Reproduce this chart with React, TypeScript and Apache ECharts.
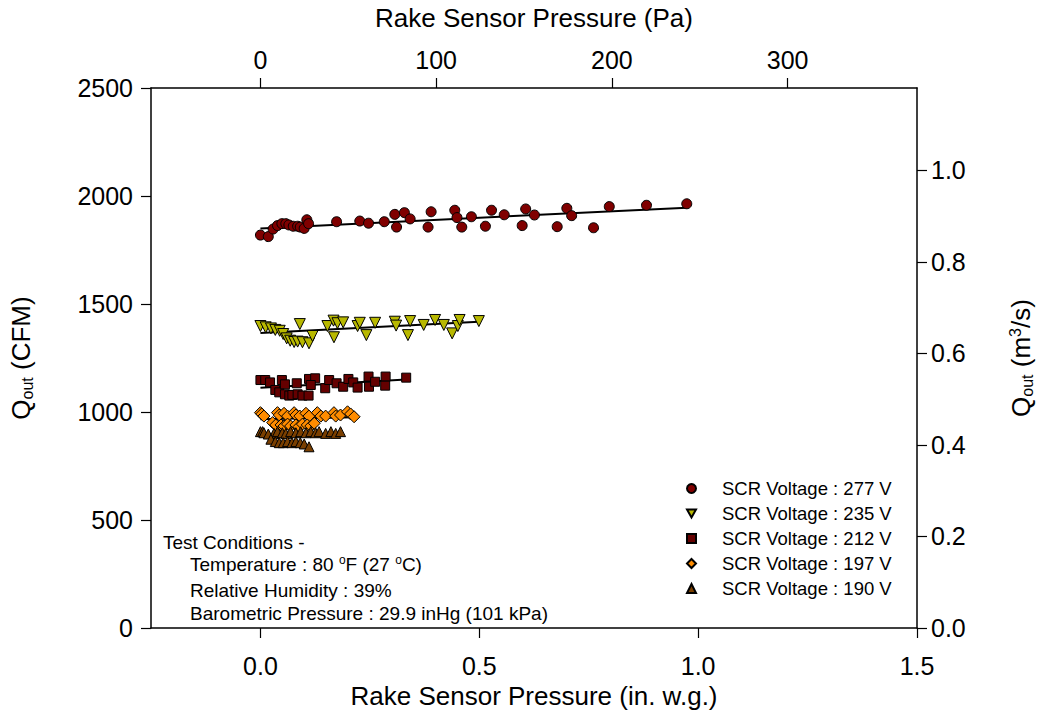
import React, { useEffect, useRef } from "react";
import * as echarts from "echarts";

// Rake Sensor Pressure (in. w.g.) vs Q_out (CFM)
const v277: number[][] = [
  [0.0, 1819], [0.018, 1812], [0.029, 1847], [0.039, 1863], [0.049, 1872], [0.058, 1872],
  [0.065, 1866], [0.075, 1860], [0.085, 1860], [0.091, 1856], [0.1, 1850], [0.106, 1890],
  [0.11, 1872], [0.174, 1881], [0.227, 1884], [0.247, 1874], [0.283, 1881], [0.307, 1915],
  [0.311, 1856], [0.329, 1923], [0.342, 1894], [0.39, 1927], [0.383, 1856], [0.444, 1934],
  [0.449, 1900], [0.46, 1856], [0.482, 1904], [0.514, 1860], [0.528, 1934], [0.557, 1913],
  [0.598, 1863], [0.606, 1940], [0.626, 1912], [0.678, 1858], [0.7, 1943], [0.711, 1909],
  [0.761, 1853], [0.797, 1951], [0.882, 1957], [0.974, 1964],
];
const v235: number[][] = [
  [0.0, 1398], [0.012, 1392], [0.024, 1387], [0.034, 1380], [0.044, 1376], [0.052, 1361],
  [0.06, 1341], [0.068, 1330], [0.077, 1324], [0.085, 1326], [0.096, 1323], [0.111, 1318],
  [0.09, 1407], [0.119, 1352], [0.153, 1398], [0.167, 1423], [0.176, 1411], [0.189, 1415],
  [0.168, 1346], [0.222, 1398], [0.227, 1413], [0.242, 1356], [0.262, 1413], [0.307, 1418],
  [0.31, 1400], [0.337, 1356], [0.342, 1421], [0.373, 1403], [0.399, 1426], [0.419, 1403],
  [0.438, 1364], [0.451, 1398], [0.455, 1426], [0.499, 1421],
];
const v212: number[][] = [
  [0.0, 1148], [0.011, 1148], [0.022, 1137], [0.049, 1148], [0.034, 1102], [0.043, 1091],
  [0.056, 1128], [0.056, 1082], [0.066, 1076], [0.073, 1079], [0.085, 1082], [0.083, 1133],
  [0.096, 1076], [0.11, 1076], [0.111, 1153], [0.125, 1156], [0.115, 1125], [0.148, 1110],
  [0.157, 1148], [0.174, 1133], [0.189, 1117], [0.201, 1153], [0.212, 1137], [0.222, 1113],
  [0.247, 1164], [0.248, 1117], [0.262, 1140], [0.286, 1164], [0.285, 1122], [0.333, 1159],
];
const v197: number[][] = [
  [0.0, 997], [0.003, 991], [0.008, 981], [0.039, 997], [0.043, 986], [0.054, 994],
  [0.062, 981], [0.077, 997], [0.081, 986], [0.09, 981], [0.104, 994], [0.111, 981],
  [0.13, 997], [0.138, 981], [0.149, 981], [0.168, 997], [0.172, 981], [0.183, 986],
  [0.199, 1001], [0.206, 991], [0.214, 978], [0.028, 951], [0.035, 940], [0.047, 940],
  [0.054, 935], [0.062, 944], [0.069, 935], [0.081, 940], [0.088, 932], [0.096, 944],
  [0.107, 940], [0.115, 935], [0.123, 948],
];
const v190: number[][] = [
  [0.0, 909], [0.005, 909], [0.008, 904], [0.018, 898], [0.031, 901], [0.039, 909],
  [0.05, 904], [0.058, 901], [0.069, 909], [0.081, 904], [0.092, 909], [0.104, 904],
  [0.115, 909], [0.126, 904], [0.134, 909], [0.149, 901], [0.161, 909], [0.172, 901],
  [0.183, 909], [0.024, 874], [0.034, 863], [0.043, 858], [0.052, 858], [0.062, 863],
  [0.072, 858], [0.081, 863], [0.091, 858], [0.1, 852], [0.111, 839],
];

// Fitted lines (end points)
const fit277: number[][] = [[0.0, 1850], [0.974, 1946]];
const fit235: number[][] = [[0.0, 1366], [0.499, 1418]];
const fit212: number[][] = [[0.0, 1112], [0.333, 1150]];
const fit197: number[][] = [[0.0, 966], [0.214, 976]];
const fit190: number[][] = [[0.0, 888], [0.183, 891]];

const seriesNames = [
  "SCR Voltage : 277 V",
  "SCR Voltage : 235 V",
  "SCR Voltage : 212 V",
  "SCR Voltage : 197 V",
  "SCR Voltage : 190 V",
];

const bottomTicks = [0, 0.5, 1.0, 1.5];
const topTicks = [0, 100, 200, 300];
const leftTicks = [0, 500, 1000, 1500, 2000, 2500];
const rightTicks = [0, 0.2, 0.4, 0.6, 0.8, 1.0];

const PA_PER_INWG = 249.09;
const CFM_PER_M3S = 2118.88;
const X_MIN = -0.25;
const X_MAX = 1.5;
const Y_MAX = 2500;

const FONT = "'Liberation Sans', Arial, Helvetica, sans-serif";

export default function App() {
  const ref = useRef<HTMLDivElement>(null);

  useEffect(() => {
    if (!ref.current) return;
    const chart = echarts.init(ref.current, null, { renderer: "svg" });

    const axisLine = { show: true, onZero: false, lineStyle: { color: "#000", width: 1.5 } };
    const tick = { show: true, length: 10, inside: false, lineStyle: { color: "#000", width: 1.2 } };
    const labelStyle = { color: "#000", fontSize: 25, fontFamily: FONT };
    const titleStyle = { fontSize: 26, fontFamily: FONT, color: "#000" };

    const nameRich = {
      q: { fontSize: 26, fontFamily: FONT, color: "#000" },
      s: { fontSize: 16, fontFamily: FONT, color: "#000", verticalAlign: "bottom", padding: [12, 0, 0, 0] },
      p: { fontSize: 16, fontFamily: FONT, color: "#000", verticalAlign: "top", padding: [0, 0, 12, 0] },
    };

    const scatter = (name: string, data: number[][], symbol: string, size: number, color: string, rotate = 0) => ({
      name,
      type: "scatter",
      data,
      symbol,
      symbolSize: size,
      symbolRotate: rotate,
      itemStyle: { color, borderColor: "#000", borderWidth: 1, opacity: 1 },
      z: 3,
    });
    const fit = (data: number[][]) => ({
      type: "line",
      data,
      symbol: "none",
      lineStyle: { color: "#000", width: 2 },
      z: 2,
      silent: true,
    });

    const smallText = { fontSize: 19, fontFamily: FONT, fill: "#000" };
    const supRich = {
      n: { fontSize: 19, fontFamily: FONT, color: "#000" },
      o: { fontSize: 12, fontFamily: FONT, color: "#000", verticalAlign: "top", padding: [0, 0, 9, 0] },
    };

    chart.setOption({
      animation: false,
      backgroundColor: "#fff",
      grid: { left: 150, right: 129, top: 88, bottom: 91, containLabel: false },
      xAxis: [
        {
          type: "value",
          position: "bottom",
          min: X_MIN,
          max: X_MAX,
          name: "Rake Sensor Pressure (in. w.g.)",
          nameLocation: "middle",
          nameGap: 52,
          nameTextStyle: titleStyle,
          axisLine,
          axisTick: { ...tick, customValues: bottomTicks },
          axisLabel: { ...labelStyle, margin: 25, customValues: bottomTicks, formatter: (v: number) => v.toFixed(1) },
          splitLine: { show: false },
        },
        {
          type: "value",
          position: "top",
          min: X_MIN * PA_PER_INWG,
          max: X_MAX * PA_PER_INWG,
          name: "Rake Sensor Pressure (Pa)",
          nameLocation: "middle",
          nameGap: 57,
          nameTextStyle: titleStyle,
          axisLine,
          axisTick: { ...tick, customValues: topTicks },
          axisLabel: { ...labelStyle, margin: 16, customValues: topTicks, formatter: (v: number) => String(Math.round(v)) },
          splitLine: { show: false },
        },
      ],
      yAxis: [
        {
          type: "value",
          position: "left",
          min: 0,
          max: Y_MAX,
          name: "{q|Q}{s|out}{q| (CFM)}",
          nameLocation: "middle",
          nameGap: 116,
          nameTextStyle: { ...titleStyle, rich: nameRich },
          axisLine,
          axisTick: { ...tick, customValues: leftTicks },
          axisLabel: { ...labelStyle, margin: 18, customValues: leftTicks, formatter: (v: number) => String(Math.round(v)) },
          splitLine: { show: false },
        },
        {
          type: "value",
          position: "right",
          min: 0,
          max: Y_MAX / CFM_PER_M3S,
          name: "{q|Q}{s|out}{q| (m}{p|3}{q|/s)}",
          nameLocation: "middle",
          nameGap: 90,
          nameTextStyle: { ...titleStyle, rich: nameRich },
          axisLine,
          axisTick: { ...tick, customValues: rightTicks },
          axisLabel: { ...labelStyle, margin: 14, customValues: rightTicks, formatter: (v: number) => v.toFixed(1) },
          splitLine: { show: false },
        },
      ],
      legend: {
        data: [
          { name: seriesNames[0] },
          { name: seriesNames[1], icon: "path://M0,0L10,0L5,9Z" },
          { name: seriesNames[2] },
          { name: seriesNames[3] },
          { name: seriesNames[4] },
        ],
        orient: "vertical",
        left: 686,
        top: 479,
        padding: 0,
        itemWidth: 9,
        itemHeight: 9,
        itemGap: 6,
        symbolKeepAspect: true,
        textStyle: { fontSize: 18.5, fontFamily: FONT, color: "#000", padding: [0, 0, 0, 21] },
        selectedMode: false,
      },
      graphic: [
        { type: "text", left: 163, top: 533, style: { ...smallText, text: "Test Conditions -" } },
        {
          type: "text",
          left: 190,
          top: 554,
          style: { text: "{n|Temperature : 80 }{o|o}{n|F (27 }{o|o}{n|C)}", rich: supRich, fontFamily: FONT },
        },
        { type: "text", left: 190, top: 581, style: { ...smallText, text: "Relative Humidity : 39%" } },
        { type: "text", left: 190, top: 604, style: { ...smallText, text: "Barometric Pressure : 29.9 inHg (101 kPa)" } },
      ],
      series: [
        scatter(seriesNames[0], v277, "circle", 10, "#800000"),
        scatter(seriesNames[1], v235, "triangle", 11, "#b8b800", 180),
        scatter(seriesNames[2], v212, "rect", 9, "#650000"),
        scatter(seriesNames[3], v197, "diamond", 12, "#ff8c00"),
        scatter(seriesNames[4], v190, "triangle", 10, "#7a3f00"),
        fit(fit277),
        fit(fit235),
        fit(fit212),
        fit(fit197),
        fit(fit190),
      ],
    });

    return () => chart.dispose();
  }, []);

  return (
    <div
      ref={ref}
      style={{ position: "fixed", left: 0, top: 0, width: 1046, height: 719, background: "#fff" }}
    />
  );
}
